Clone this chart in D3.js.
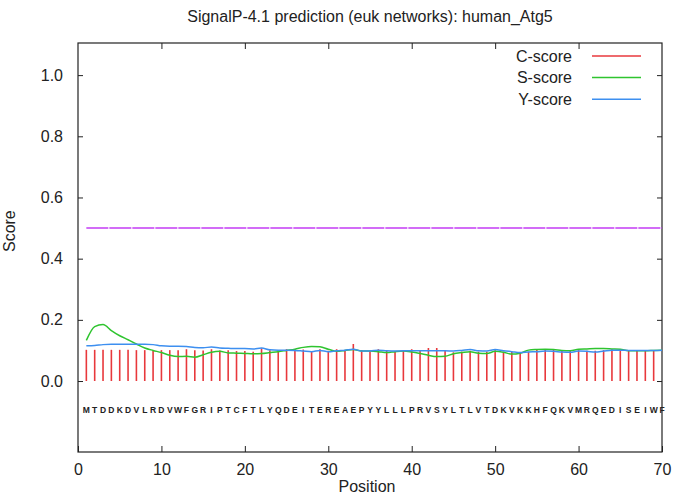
<!DOCTYPE html>
<html>
<head>
<meta charset="utf-8">
<script src="https://cdn.jsdelivr.net/npm/d3@7"></script>
<style>
  body { margin: 0; background: #fff; }
  text { font-family: "Liberation Sans", Arial, sans-serif; fill: #222; }
</style>
</head>
<body>
<div id="chart"></div>
<script>
// data
var sequence = "MTDDKDVLRDVWFGRIPTCFTLYQDEITEREAEPYYLLLPRVSYLTLVTDKVKKHFQKVMRQEDISEIWF".split("");
var positions = d3.range(1, 71);

var cScore = [0.102, 0.102, 0.102, 0.102, 0.102, 0.102, 0.101, 0.101, 0.100, 0.101,
              0.101, 0.101, 0.104, 0.101, 0.100, 0.104, 0.100, 0.101, 0.098, 0.098,
              0.096, 0.107, 0.101, 0.099, 0.104, 0.104, 0.103, 0.098, 0.104, 0.099,
              0.104, 0.101, 0.121, 0.101, 0.099, 0.104, 0.099, 0.096, 0.099, 0.104,
              0.101, 0.108, 0.108, 0.101, 0.094, 0.096, 0.099, 0.096, 0.096, 0.101,
              0.096, 0.096, 0.092, 0.096, 0.104, 0.104, 0.104, 0.099, 0.099, 0.101,
              0.099, 0.099, 0.101, 0.104, 0.103, 0.101, 0.101, 0.099, 0.099];

var sScore = [0.133, 0.178, 0.185, 0.165, 0.148, 0.135, 0.121, 0.108, 0.100, 0.093,
              0.084, 0.080, 0.081, 0.078, 0.086, 0.094, 0.097, 0.092, 0.091, 0.090,
              0.089, 0.090, 0.093, 0.096, 0.100, 0.104, 0.110, 0.113, 0.112, 0.104,
              0.097, 0.100, 0.103, 0.098, 0.098, 0.096, 0.093, 0.096, 0.098, 0.095,
              0.090, 0.084, 0.080, 0.081, 0.089, 0.093, 0.096, 0.091, 0.090, 0.097,
              0.094, 0.088, 0.091, 0.101, 0.103, 0.104, 0.103, 0.100, 0.099, 0.104,
              0.105, 0.106, 0.106, 0.105, 0.104, 0.099, 0.099, 0.099, 0.100, 0.101];

var yScore = [0.115, 0.116, 0.119, 0.120, 0.120, 0.120, 0.120, 0.120, 0.119, 0.115,
              0.114, 0.114, 0.113, 0.110, 0.109, 0.111, 0.108, 0.107, 0.106, 0.106,
              0.105, 0.108, 0.102, 0.101, 0.101, 0.100, 0.098, 0.096, 0.100, 0.096,
              0.099, 0.101, 0.104, 0.098, 0.098, 0.101, 0.099, 0.098, 0.099, 0.099,
              0.099, 0.099, 0.099, 0.099, 0.098, 0.100, 0.103, 0.099, 0.098, 0.103,
              0.099, 0.096, 0.093, 0.095, 0.096, 0.098, 0.097, 0.095, 0.094, 0.098,
              0.097, 0.095, 0.098, 0.101, 0.101, 0.100, 0.100, 0.100, 0.100, 0.101];

var cutoff = 0.5;
var xTicks = [0, 10, 20, 30, 40, 50, 60, 70];
var yTicks = [0, 0.2, 0.4, 0.6, 0.8, 1.0];
var legendNames = ["C-score", "S-score", "Y-score"];
var legendColors = ["#e8383c", "#2fc42f", "#3d8ff0"];

// set the dimensions and margins of the graph
var margin = {top: 43, right: 11, bottom: 50, left: 78},
    width = 673 - margin.left - margin.right,
    height = 502 - margin.top - margin.bottom;

var svg = d3.select("#chart")
  .append("svg")
    .attr("width", width + margin.left + margin.right)
    .attr("height", height + margin.top + margin.bottom)
  .append("g")
    .attr("transform", "translate(" + margin.left + "," + margin.top + ")");

// scales
var x = d3.scaleLinear()
  .domain([0, 70])
  .range([0, width]);

var y = d3.scaleLinear()
  .domain([-0.232, 1.105])
  .range([height, 0]);

// X axis (bottom with labels, top mirrored)
svg.append("g")
  .attr("transform", "translate(0," + height + ")")
  .call(d3.axisBottom(x).tickValues(xTicks).tickSize(-6).tickPadding(12));
svg.append("g")
  .call(d3.axisTop(x).tickValues(xTicks.slice(1, -1)).tickSize(-6).tickFormat(""));

// Y axis (left with labels, right mirrored)
svg.append("g")
  .call(d3.axisLeft(y).tickValues(yTicks).tickSize(-5).tickPadding(15).tickFormat(d3.format(".1f")));
svg.append("g")
  .attr("transform", "translate(" + width + ",0)")
  .call(d3.axisRight(y).tickValues(yTicks).tickSize(-5).tickFormat(""));

svg.selectAll(".domain").remove();
svg.selectAll(".tick line").attr("stroke", "#222");
svg.selectAll(".tick text").style("font-size", "16px").attr("fill", "#222");

// frame
svg.append("rect")
  .attr("width", width)
  .attr("height", height)
  .attr("fill", "none")
  .attr("stroke", "#222")
  .attr("stroke-width", 1.2);

// cutoff line
svg.append("line")
  .attr("x1", x(positions[0]))
  .attr("x2", x(positions[positions.length - 1]))
  .attr("y1", y(cutoff))
  .attr("y2", y(cutoff))
  .attr("stroke", "#c33cf5")
  .attr("stroke-width", 1.5)
  .style("stroke-dasharray", "22,1");

// C-score bars
svg.append("g")
  .selectAll("line")
  .data(cScore)
  .enter()
  .append("line")
    .attr("x1", function(d, i) { return x(positions[i]); })
    .attr("x2", function(d, i) { return x(positions[i]); })
    .attr("y1", y(0))
    .attr("y2", function(d) { return y(d); })
    .attr("stroke", legendColors[0])
    .attr("stroke-width", 1.6);

// S and Y score lines
var line = d3.line()
  .x(function(d, i) { return x(positions[i]); })
  .y(function(d) { return y(d); })
  .curve(d3.curveMonotoneX);

svg.append("path")
  .datum(sScore)
  .attr("d", line)
  .attr("fill", "none")
  .attr("stroke", legendColors[1])
  .attr("stroke-width", 1.5);

svg.append("path")
  .datum(yScore)
  .attr("d", line)
  .attr("fill", "none")
  .attr("stroke", legendColors[2])
  .attr("stroke-width", 1.5);

// sequence letters under the plot
svg.append("g")
  .selectAll("text")
  .data(sequence)
  .enter()
  .append("text")
    .attr("x", function(d, i) { return x(positions[i]); })
    .attr("y", y(-0.105))
    .attr("text-anchor", "middle")
    .style("font-size", "8.5px")
    .style("font-weight", "bold")
    .text(function(d) { return d; });

// legend
var legend = svg.append("g")
  .selectAll("g")
  .data(legendNames)
  .enter()
  .append("g")
    .attr("transform", function(d, i) { return "translate(0," + (13 + i * 21.6) + ")"; });

legend.append("text")
  .attr("x", 494)
  .attr("y", 5.5)
  .attr("text-anchor", "end")
  .style("font-size", "16px")
  .text(function(d) { return d; });

legend.append("line")
  .attr("x1", 514)
  .attr("x2", 563)
  .attr("stroke", function(d, i) { return legendColors[i]; })
  .attr("stroke-width", 1.5);

// title and axis labels
svg.append("text")
  .attr("x", width / 2)
  .attr("y", -21)
  .attr("text-anchor", "middle")
  .style("font-size", "16px")
  .text("SignalP-4.1 prediction (euk networks): human_Atg5");

svg.append("text")
  .attr("x", width / 2 - 3)
  .attr("y", height + 40)
  .attr("text-anchor", "middle")
  .style("font-size", "16px")
  .text("Position");

svg.append("text")
  .attr("transform", "translate(-63," + (y(0.49)) + ") rotate(-90)")
  .attr("text-anchor", "middle")
  .style("font-size", "16px")
  .text("Score");
</script>
</body>
</html>
